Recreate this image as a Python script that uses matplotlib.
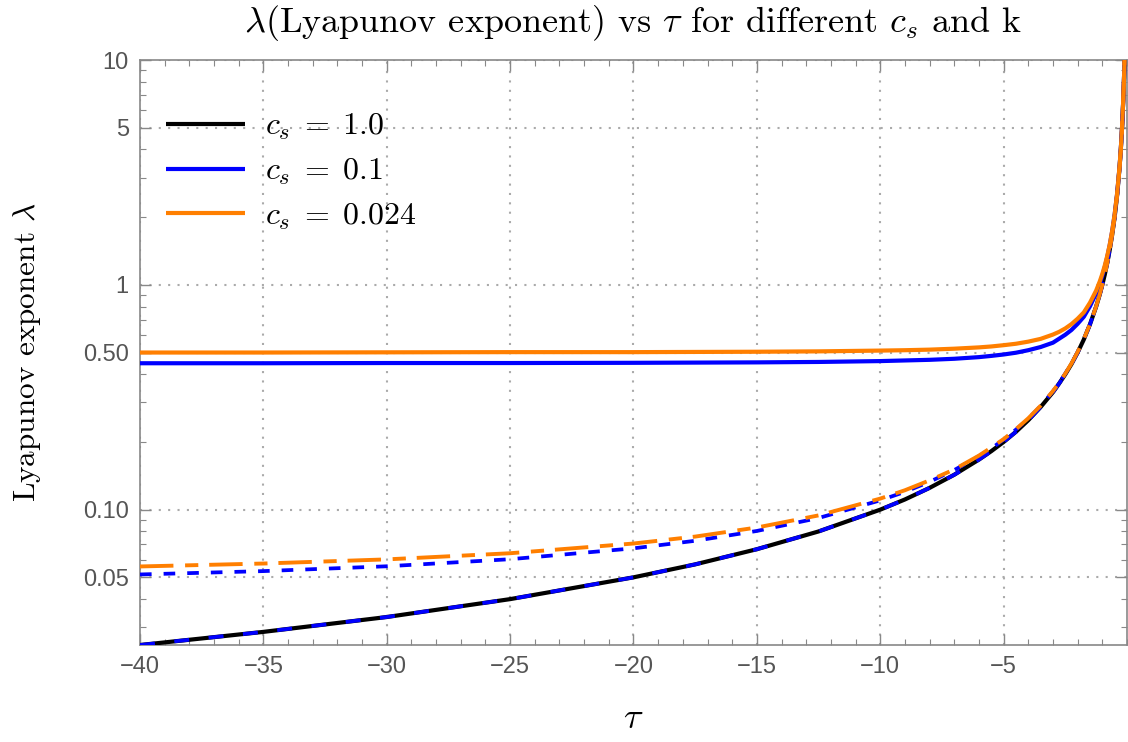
import matplotlib
matplotlib.use("Agg")
import matplotlib.pyplot as plt
from matplotlib.ticker import FixedLocator, FixedFormatter, NullFormatter
from matplotlib.lines import Line2D

plt.rcParams['mathtext.fontset'] = 'cm'
plt.rcParams['font.family'] = ['cmr10', 'DejaVu Sans']
plt.rcParams['axes.formatter.use_mathtext'] = True

# tau sample points
tau = [-40, -35, -30, -25, -20, -17.5, -15, -12.5, -10, -9, -8, -7, -6, -5.5, -5, -4.5,
       -4, -3.5, -3, -2.75, -2.5, -2.25, -2, -1.75, -1.5, -1.25, -1.1, -1, -0.9, -0.8,
       -0.7, -0.6, -0.5, -0.4, -0.3, -0.25, -0.2, -0.15, -0.12, -0.1]

# c_s = 1.0 (solid black)
lam_cs1 = [0.025, 0.0286, 0.0333, 0.040, 0.050, 0.0571, 0.0667, 0.080, 0.100, 0.111,
           0.125, 0.143, 0.167, 0.182, 0.200, 0.222, 0.250, 0.286, 0.333, 0.364, 0.400,
           0.444, 0.500, 0.571, 0.667, 0.800, 0.909, 1.00, 1.11, 1.25, 1.43, 1.67, 2.00,
           2.50, 3.33, 4.00, 5.00, 6.67, 8.33, 10.0]
# c_s = 0.1: solid (upper), short-dashed, long-dashed (on top of black)
lam_cs01_a = [0.448, 0.448, 0.449, 0.449, 0.450, 0.451, 0.452, 0.454, 0.458, 0.461,
              0.464, 0.469, 0.477, 0.483, 0.490, 0.499, 0.512, 0.529, 0.553, 0.576,
              0.600, 0.630, 0.671, 0.721, 0.803, 0.917, 1.013, 1.095, 1.198, 1.328,
              1.50, 1.73, 2.05, 2.54, 3.36, 4.02, 5.02, 6.68, 8.34, 10.0]
lam_cs01_b = [0.0515, 0.0533, 0.0560, 0.0602, 0.0673, 0.0727, 0.0804, 0.0918, 0.110,
              0.120, 0.133, 0.150, 0.173, 0.187, 0.205, 0.227, 0.254, 0.289, 0.336,
              0.366, 0.403, 0.447, 0.502, 0.573, 0.668, 0.801, 0.910, 1.00, 1.11, 1.25,
              1.43, 1.67, 2.00, 2.50, 3.33, 4.00, 5.00, 6.67, 8.33, 10.0]
lam_cs01_c = lam_cs1
# c_s = 0.024: solid and dashed
lam_cs0024_a = [0.500, 0.500, 0.501, 0.502, 0.502, 0.503, 0.504, 0.506, 0.510, 0.512,
                0.515, 0.520, 0.527, 0.532, 0.539, 0.547, 0.559, 0.575, 0.601, 0.618,
                0.640, 0.669, 0.707, 0.754, 0.833, 0.943, 1.038, 1.118, 1.219, 1.346,
                1.51, 1.74, 2.06, 2.55, 3.37, 4.03, 5.02, 6.69, 8.35, 10.0]
lam_cs0024_b = [0.0559, 0.0576, 0.0601, 0.0640, 0.0707, 0.0759, 0.0833, 0.0943, 0.112,
                0.122, 0.135, 0.151, 0.174, 0.189, 0.206, 0.228, 0.255, 0.290, 0.337,
                0.367, 0.403, 0.447, 0.503, 0.574, 0.669, 0.802, 0.911, 1.00, 1.11, 1.25,
                1.43, 1.67, 2.00, 2.50, 3.33, 4.00, 5.00, 6.67, 8.33, 10.0]

legend_labels = [r'$c_s\;=\;1.0$', r'$c_s\;=\;0.1$', r'$c_s\;=\;0.024$']
xticks = [-40, -35, -30, -25, -20, -15, -10, -5]
yticks = [0.05, 0.1, 0.5, 1, 5, 10]
ytick_labels = ['0.05', '0.10', '0.50', '1', '5', '10']
yminor = [0.03, 0.04, 0.06, 0.07, 0.08, 0.09, 0.2, 0.3, 0.4, 0.6, 0.7, 0.8, 0.9,
          2, 3, 4, 6, 7, 8, 9]

BLUE = '#0000ff'
ORANGE = '#ff7f00'
GRAY = '#888888'

fig = plt.figure(figsize=(11.28, 7.42), dpi=100)
ax = fig.add_axes([0.1241, 0.1307, 0.875, 0.7884])

ax.plot(tau, lam_cs1, color='black', lw=3.0, zorder=3)
ax.plot(tau, lam_cs01_c, color=BLUE, lw=2.7, ls=(0, (4.0, 5.2)), zorder=4)
ax.plot(tau, lam_cs01_b, color=BLUE, lw=2.7, ls=(0, (3.1, 3.2)), zorder=4)
ax.plot(tau, lam_cs0024_b, color=ORANGE, lw=2.8, ls=(0, (8.6, 3.0, 3.4, 2.8)), zorder=5)
ax.plot(tau, lam_cs01_a, color=BLUE, lw=3.0, zorder=4)
ax.plot(tau, lam_cs0024_a, color=ORANGE, lw=3.0, zorder=5)

ax.set_yscale('log')
ax.set_xlim(-40, 0)
ax.set_ylim(0.025, 10)

ax.xaxis.set_major_locator(FixedLocator(xticks))
ax.xaxis.set_major_formatter(FixedFormatter(['\u2212' + str(-t) for t in xticks]))
ax.xaxis.set_minor_locator(FixedLocator(list(range(-40, 1))))
ax.yaxis.set_major_locator(FixedLocator(yticks))
ax.yaxis.set_major_formatter(FixedFormatter(ytick_labels))
ax.yaxis.set_minor_locator(FixedLocator(yminor))
ax.yaxis.set_minor_formatter(NullFormatter())

ax.tick_params(which='both', direction='in', top=True, right=True, colors=GRAY,
               labelcolor='#555555')
ax.tick_params(which='major', length=8, width=1.0, labelsize=17, pad=8)
ax.tick_params(which='minor', length=4, width=0.8)
for lab in ax.get_xticklabels() + ax.get_yticklabels():
    lab.set_family(['Liberation Sans Narrow', 'Liberation Sans', 'DejaVu Sans'])
for sp in ax.spines.values():
    sp.set_color(GRAY)
    sp.set_linewidth(1.2)

ax.grid(True, which='major', color='#aaaaaa', lw=1.5, ls=(0, (1, 3.5)))

ax.set_title(r'$\lambda$(Lyapunov exponent) vs $\tau$ for different $c_s$ and k',
             fontsize=26, pad=20)
ax.set_xlabel(r'$\tau$', fontsize=26, labelpad=18)
ax.set_ylabel(r'Lyapunov exponent $\lambda$', fontsize=22.5)
ax.yaxis.set_label_coords(-0.098, 0.5)

handles = [Line2D([], [], color=c, lw=3.0, solid_capstyle='butt')
           for c in ['black', BLUE, ORANGE]]
ax.legend(handles, legend_labels, loc='upper left', frameon=False, fontsize=23,
          handlelength=2.5, handletextpad=0.6, labelspacing=0.45,
          bbox_to_anchor=(0.0, 0.955), borderaxespad=0.4)

fig.savefig('out.png', dpi=100)
